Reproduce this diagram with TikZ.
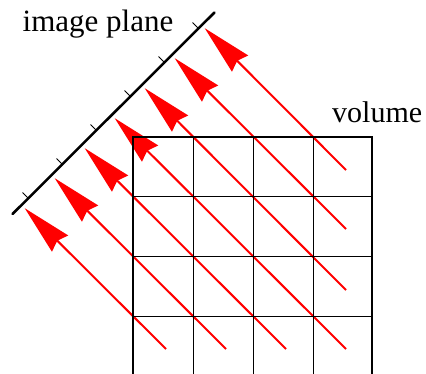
\documentclass[tikz,border=0pt]{standalone}
\usepackage{fontspec}
\setmainfont{Liberation Serif}
\usetikzlibrary{arrows.meta}
\begin{document}
\begin{tikzpicture}[x=1pt,y=-1pt,
  ray/.style={draw=red, line width=2pt, shorten >=40pt},
  rayhead/.style={fill=red, draw=none},
  gridline/.style={draw=black, line width=1pt},
  frame/.style={draw=black, line width=2pt},
  plane/.style={draw=black, line width=2.5pt, line cap=round},
  tick/.style={draw=black, line width=1pt},
  lbl/.style={inner sep=0pt}]
\useasboundingbox (0,0) rectangle (426,374);
\clip (0,0) rectangle (426,374);
% rays
\foreach \i/\tx/\ty in {0/346/170,1/346/229,2/346/290,3/346/349,4/286/349,5/226/349,6/166/349}{
  \pgfmathsetmacro{\d}{176.5-60*\i}
  \coordinate (tail\i) at (\tx,\ty);
  \coordinate (tip\i) at ({(233+\d)/2},{(233-\d)/2});
  \draw[ray] (tail\i) -- (tip\i);
  \fill[rayhead] (tip\i) -- +(43.5,27.2) -- +(32.5,32.5) -- +(27.2,43.5) -- cycle;
}
% grid
\foreach \x in {193,253,313}{
  \coordinate (vt\x) at (\x,137);
  \coordinate (vb\x) at (\x,378);
  \draw[gridline] (vt\x) -- (vb\x);
}
\foreach \y in {197,257,317}{
  \coordinate (hl\y) at (133,\y);
  \coordinate (hr\y) at (372,\y);
  \draw[gridline] (hl\y) -- (hr\y);
}
\coordinate (fa) at (133,137);
\coordinate (fb) at (372,377);
\draw[frame] (fa) rectangle (fb);
% image plane
\coordinate (pa) at (12.5,214);
\coordinate (pb) at (214.5,12.5);
\draw[plane] (pa) -- (pb);
\foreach \d in {-170,-102,-34,34,102,170}{
  \coordinate (tf\d) at ({(226.5+\d)/2},{(226.5-\d)/2});
  \coordinate (te\d) at ({(226.5+\d)/2-5.7},{(226.5-\d)/2-5.7});
  \draw[tick] (tf\d) -- (te\d);
}
% labels
\node[lbl, anchor=base west, font=\fontsize{31}{36}\selectfont] (imgplane) at (22.5,32) {image plane};
\node[lbl, anchor=base west, font=\fontsize{30}{36}\selectfont] (volume) at (332,123) {volume};
\end{tikzpicture}
\end{document}
